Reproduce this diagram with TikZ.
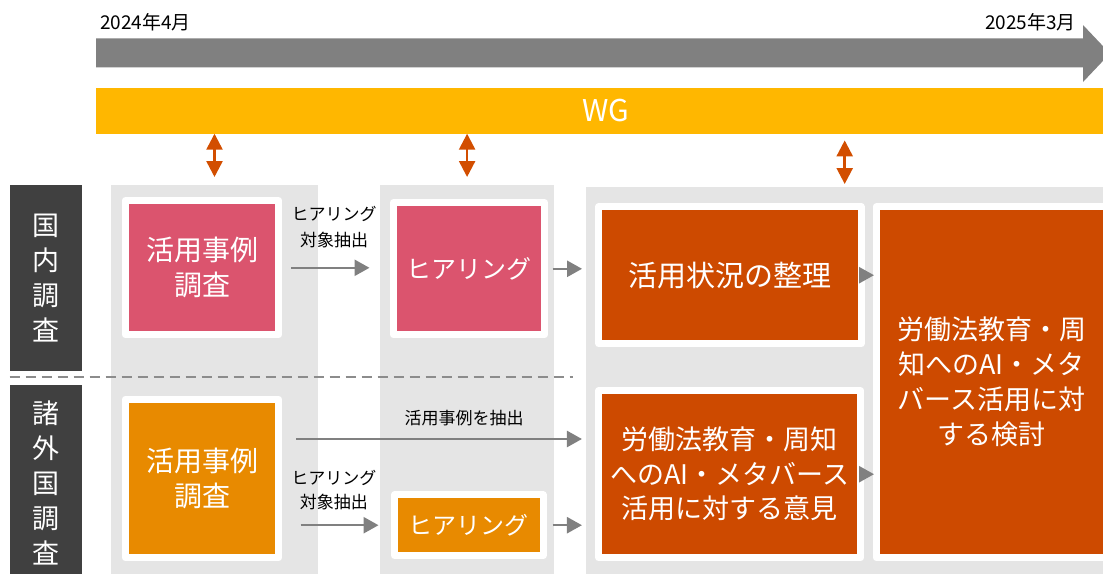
\documentclass[tikz,border=0pt]{standalone}
\usepackage{fontspec}
\setmainfont{Noto Sans CJK JP}
\usetikzlibrary{arrows.meta,calc}
\definecolor{tlgray}{HTML}{808080}
\definecolor{wgyel}{HTML}{FFB700}
\definecolor{redor}{HTML}{D24E00}
\definecolor{bggray}{HTML}{E5E5E5}
\definecolor{labdark}{HTML}{404040}
\definecolor{pinkc}{HTML}{DB546E}
\definecolor{orc}{HTML}{E88A00}
\definecolor{dorc}{HTML}{CD4A00}
\definecolor{dashc}{HTML}{8C8C8C}
\begin{document}
\begin{tikzpicture}[x=1pt,y=-1pt,
  bgcol/.style={fill=bggray, draw=none, inner sep=0pt, anchor=north west},
  labbox/.style={fill=labdark, draw=none, inner sep=0pt, anchor=north west, text=white, align=center, font=\fontsize{27}{35}\selectfont},
  boxbase/.style={draw=white, line width=7pt, line join=round, inner sep=0pt, text=white, align=center},
  conn/.style={draw=tlgray, line width=2.5pt, -{Triangle[length=15pt,width=16pt]}},
  dblarr/.style={draw=redor, line width=2.5pt, {Triangle[length=16pt,width=16pt]}-{Triangle[length=16pt,width=16pt]}},
  lbl/.style={text=black, align=center, inner sep=0pt, font=\fontsize{17}{26}\selectfont},
  datelbl/.style={text=black, inner sep=0pt, font=\fontsize{19}{22}\selectfont},
  dashline/.style={draw=dashc, line width=2pt, dash pattern=on 10pt off 6pt}
]
\useasboundingbox (0,0) rectangle (1103,573);

% timeline
\fill[tlgray] (96,38.3) -- (1083,38.3) -- (1083,25) -- (1110,53.5) -- (1083,82) -- (1083,67.3) -- (96,67.3) -- cycle;
\node[datelbl, anchor=west] (d1) at (100,22.5) {2024年4月};
\node[datelbl, anchor=east] (d2) at (1076,22.5) {2025年3月};

% WG bar
\node[fill=wgyel, inner sep=0pt, anchor=north west, minimum width=1020pt, minimum height=45.6pt, text=white, font=\fontsize{30}{34}\selectfont] (wg) at (96,87.7) {WG};

% background columns
\node[bgcol, minimum width=206.6pt, minimum height=395pt] (col1) at (111,185) {};
\node[bgcol, minimum width=173.8pt, minimum height=395pt] (col2) at (380,185) {};
\node[bgcol, minimum width=517pt, minimum height=395pt] (col3) at (586,186.7) {};

% side labels
\node[labbox, minimum width=71.9pt, minimum height=185.7pt] (lab1) at (9.6,185) {国\\内\\調\\査};
\node[labbox, minimum width=71.9pt, minimum height=195pt] (lab2) at (9.6,385) {諸\\外\\国\\調\\査};

\draw[dashline] (9.6,376.7) -- (573,376.7);

% boxes
\node[boxbase, fill=pinkc, minimum width=153.5pt, minimum height=134.3pt, font=\fontsize{28}{35}\selectfont] (p1) at (202,267.8) {活用事例\\調査};
\node[boxbase, fill=pinkc, minimum width=151pt, minimum height=132.3pt, font=\fontsize{25}{30}\selectfont] (h1) at (469,268.8) {ヒアリング};
\node[boxbase, fill=orc, minimum width=153.5pt, minimum height=158.4pt, font=\fontsize{28}{35}\selectfont] (p2) at (202,478.5) {活用事例\\調査};
\node[boxbase, fill=orc, minimum width=148.5pt, minimum height=60.7pt, font=\fontsize{24}{30}\selectfont] (h2) at (468.8,525.2) {ヒアリング};
\node[boxbase, fill=dorc, minimum width=262.1pt, minimum height=137pt, font=\fontsize{29}{35}\selectfont] (s1) at (730,275.2) {活用状況の整理};
\node[boxbase, fill=dorc, minimum width=261.9pt, minimum height=167pt, font=\fontsize{27}{34.5}\selectfont] (s2) at (729.8,474.2) {労働法教育・周知\\へのAI・メタバース\\活用に対する意見};
\node[boxbase, fill=dorc, minimum width=230.7pt, minimum height=351pt, font=\fontsize{27}{35}\selectfont] (b) at (991.65,382.2) {労働法教育・周\\知へのAI・メタ\\バース活用に対\\する検討};

% WG double arrows
\draw[dblarr, shorten >=8pt] (col1.north |- wg.south) -- (col1.north);
\draw[dblarr, shorten >=8pt] (col2.north |- wg.south) -- (col2.north);
\draw[dblarr, shorten <=6.7pt, shorten >=2.7pt] (col3.north |- wg.south) -- (col3.north);

% connectors
\draw[conn, shorten <=9pt, shorten >=20.5pt] (p1.east) -- (p1.east -| h1.west)
  node[lbl, midway, xshift=-2pt, yshift=40.8pt] {ヒアリング\\対象抽出};
\draw[conn, shorten <=4.5pt, shorten >=13.4pt] (h1.east) -- (h1.east -| s1.west);
\coordinate (e1) at ([yshift=39.5pt]p2.east);
\draw[conn, shorten <=14pt, shorten >=13.4pt] (e1) -- (e1 -| s2.west)
  node[lbl, midway, xshift=25.2pt, yshift=21pt] {活用事例を抽出};
\draw[conn, shorten <=18.3pt, shorten >=12.5pt] (h2.west -| p2.east) -- (h2.west)
  node[lbl, midway, xshift=-2.7pt, yshift=35.2pt, font=\fontsize{17}{24}\selectfont] {ヒアリング\\対象抽出};
\draw[conn, shorten <=6pt, shorten >=13.4pt] (h2.east) -- (h2.east -| s2.west);
\draw[conn, shorten <=-3.2pt, shorten >=-1.2pt] (s1.east) -- (s1.east -| b.west);
\draw[conn, shorten <=-3.2pt, shorten >=-1.2pt] (s2.east) -- (s2.east -| b.west);
\end{tikzpicture}
\end{document}
